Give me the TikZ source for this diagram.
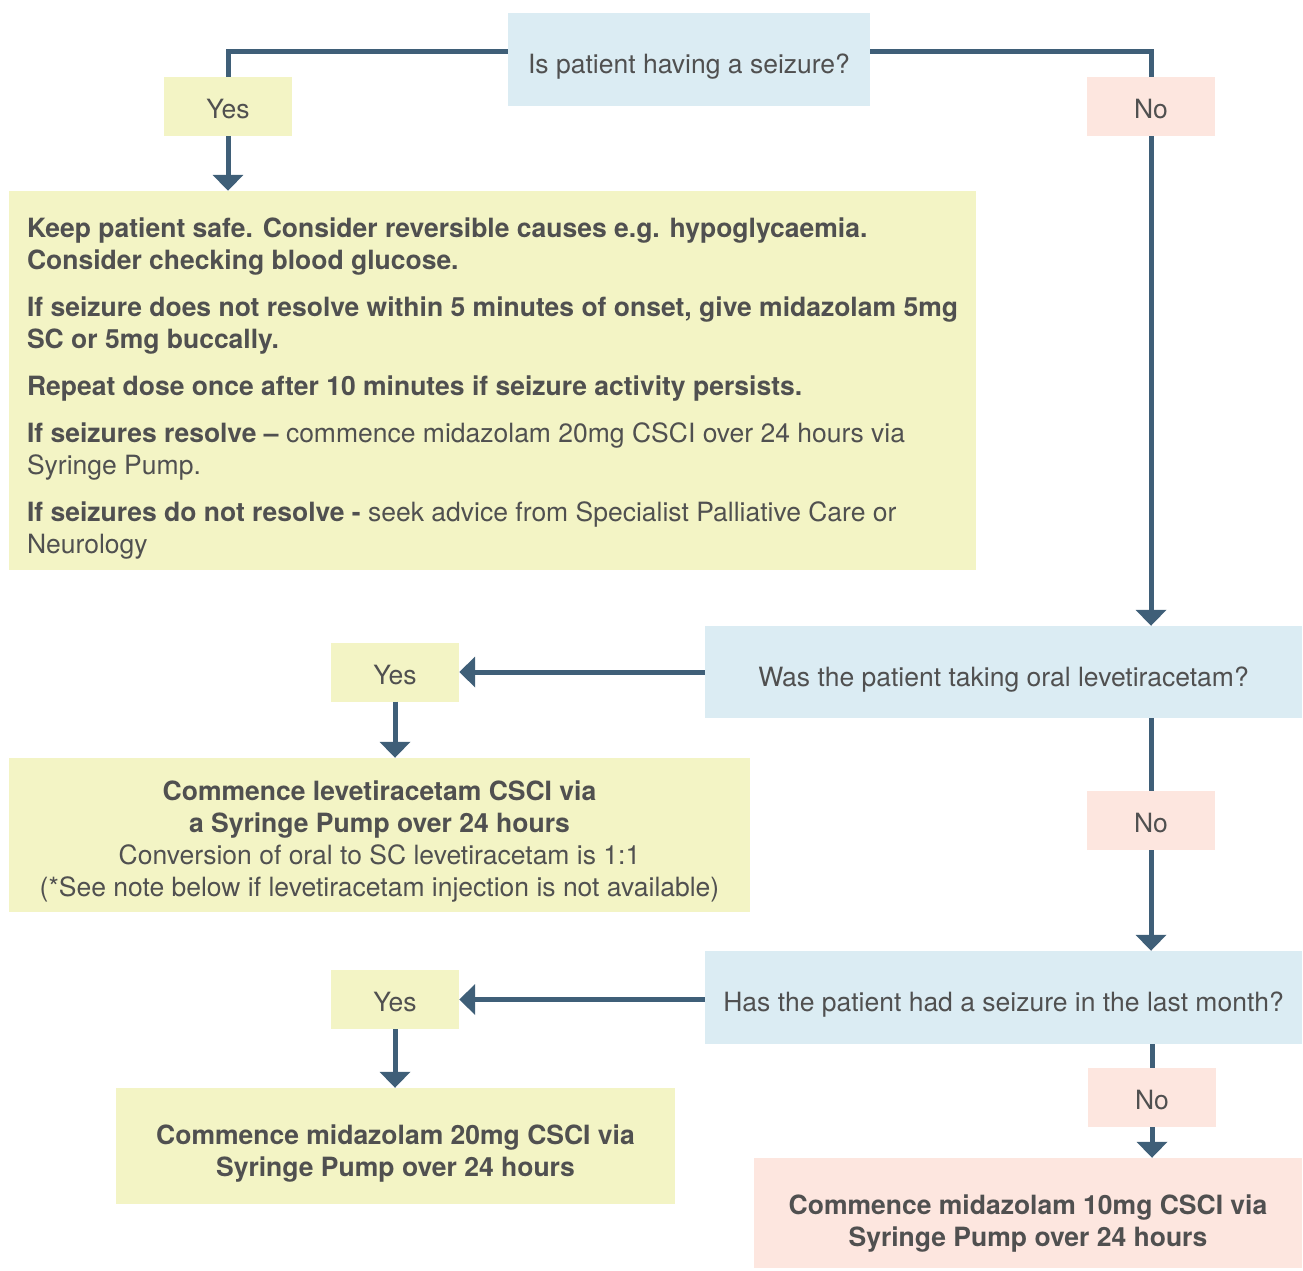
\documentclass[tikz,border=0pt]{standalone}
\usepackage{fontspec}
\setmainfont{TeX Gyre Heros}
\usetikzlibrary{arrows.meta}
\definecolor{linec}{HTML}{3F5F78}
\definecolor{qblue}{HTML}{DBECF3}
\definecolor{ayel}{HTML}{F3F4C5}
\definecolor{npink}{HTML}{FDE6DF}
\definecolor{txt}{HTML}{505050}
\newcommand\mystrut[1]{\rule{0pt}{#1}}
\begin{document}
\begin{tikzpicture}[x=1pt,y=-1pt,
  every node/.style={inner sep=0pt, text=txt, font=\fontsize{26.5}{32}\selectfont, align=center},
  qbox/.style={fill=qblue},
  ybox/.style={fill=ayel},
  pbox/.style={fill=npink},
  lbl/.style={minimum width=128pt, minimum height=59pt},
  conn/.style={draw=linec, line width=5pt},
  arr/.style={conn, -{Triangle[width=30pt,length=16pt]}}
]
\useasboundingbox (0,0) rectangle (1303,1270);

\node[qbox, minimum width=362pt, minimum height=93pt] (q1) at (689,59.5) {\mystrut{34pt}Is patient having a seizure?};
\node[ybox, lbl] (yes1) at (228,106.5) {\mystrut{25pt}Yes};
\node[pbox, lbl] (no1) at (1151,106.5) {\mystrut{25pt}No};
\node[ybox, minimum width=967pt, minimum height=379pt, align=left] (safe) at (492.5,380.5)
 {\mystrut{35pt}\textbf{Keep patient safe. Consider reversible causes e.g. hypoglycaemia.}\\
  \textbf{Consider checking blood glucose.}\\[15pt]
  \textbf{If seizure does not resolve within 5 minutes of onset, give midazolam 5mg}\\
  \textbf{SC or 5mg buccally.}\\[15pt]
  \textbf{Repeat dose once after 10 minutes if seizure activity persists.}\\[15pt]
  \textbf{If seizures resolve –} commence midazolam 20mg CSCI over 24 hours via\\
  Syringe Pump.\\[15pt]
  \textbf{If seizures do not resolve -} seek advice from Specialist Palliative Care or\\
  Neurology};

\node[qbox, minimum width=597pt, minimum height=92pt] (q2) at (1003.5,672) {\mystrut{34pt}Was the patient taking oral levetiracetam?};
\node[ybox, lbl] (yes2) at (395,672) {\mystrut{25pt}Yes};
\node[ybox, minimum width=741pt, minimum height=154pt] (lev) at (379.5,835)
 {\mystrut{33pt}\textbf{Commence levetiracetam CSCI via}\\
  \textbf{a Syringe Pump over 24 hours}\\
  Conversion of oral to SC levetiracetam is 1:1\\
  (*See note below if levetiracetam injection is not available)};
\node[pbox, lbl] (no2) at (1151,820.5) {\mystrut{25pt}No};

\node[qbox, minimum width=597pt, minimum height=93pt] (q4) at (1003.5,997.5) {\mystrut{34pt}Has the patient had a seizure in the last month?};
\node[ybox, lbl] (yes3) at (395,999.5) {\mystrut{25pt}Yes};
\node[ybox, minimum width=559pt, minimum height=116pt] (mid20) at (395.5,1146)
 {\mystrut{35pt}\textbf{Commence midazolam 20mg CSCI via}\\ \textbf{Syringe Pump over 24 hours}};
\node[pbox, lbl] (no3) at (1152,1097.5) {\mystrut{25pt}No};
\node[pbox, minimum width=548pt, minimum height=110pt] (mid10) at (1028,1213)
 {\mystrut{41pt}\textbf{Commence midazolam 10mg CSCI via}\\ \textbf{Syringe Pump over 24 hours}};

% connectors
\draw[conn] ([yshift=8.5pt]q1.west) -| (yes1.north);
\draw[arr] (yes1.south) -- (yes1.south |- safe.north);
\draw[conn] ([yshift=8.5pt]q1.east) -| (no1.north);
\draw[arr] (no1.south) -- (no1.south |- q2.north);
\draw[arr] (q2.west |- yes2.east) -- (yes2.east);
\draw[arr] (yes2.south) -- (yes2.south |- lev.north);
\draw[conn] (no2.north |- q2.south) -- (no2.north);
\draw[arr] (no2.south) -- (no2.south |- q4.north);
\draw[arr] (q4.west |- yes3.east) -- (yes3.east);
\draw[arr] (yes3.south) -- (yes3.south |- mid20.north);
\draw[conn] (no3.north |- q4.south) -- (no3.north);
\draw[arr] (no3.south) -- (no3.south |- mid10.north);
\end{tikzpicture}
\end{document}
